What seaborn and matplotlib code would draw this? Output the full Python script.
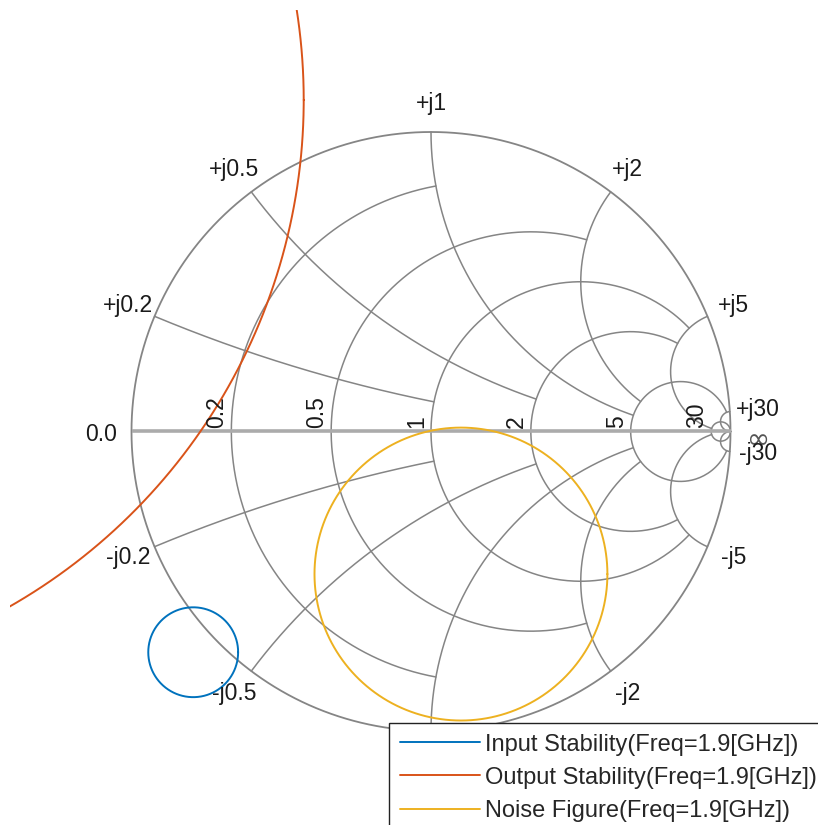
import numpy as np
import pandas as pd
import matplotlib
matplotlib.use("Agg")
import matplotlib.pyplot as plt
import seaborn as sns

# ---------------- data ----------------
# Smith chart grid (MATLAB smithplot style): value / clipping limit
grid_values = [30, 5, 2, 1, 0.5, 0.2]
grid_limits = [np.inf, 30, 5, 5, 2, 1]

real_label_values = [0.2, 0.5, 1, 2, 5, 30]
real_labels = ["0.2", "0.5", "1", "2", "5", "30"]
imag_label_values = [0.2, 0.5, 1, 2, 5, 30]
imag_labels_pos = ["+j0.2", "+j0.5", "+j1", "+j2", "+j5", "+j30"]
imag_labels_neg = ["-j0.2", "-j0.5", "-j1", "-j2", "-j5", "-j30"]

# circles in the reflection-coefficient plane
series_names = ["Input Stability(Freq=1.9[GHz])",
                "Output Stability(Freq=1.9[GHz])",
                "Noise Figure(Freq=1.9[GHz])"]
center_re = [-0.794, -2.373, 0.100]
center_im = [-0.737, 1.107, -0.476]
radius = [0.150, 1.948, 0.489]
series_colors = ["#0072BD", "#D95319", "#EDB120"]

# ---------------- figure ----------------
sns.set_style("white")
plt.rcParams["font.family"] = ["Liberation Sans", "DejaVu Sans"]

W, H = 818, 825
fig = plt.figure(figsize=(W / 100, H / 100), dpi=100)
cx_px, cy_px, R_px = 431.0, 431.5, 299.5
ax_left_px, ax_top_px = 10, 10
ax = fig.add_axes([ax_left_px / W, 0, (W - ax_left_px) / W, (H - ax_top_px) / H])
ax.axis("off")


def gamma(z):
    return (z - 1) / (z + 1)


GRID_C = "#858585"
GRID_LW = 1.1
TXT_C = "#1a1a1a"

# outer circle
t = np.linspace(0, 2 * np.pi, 721)
ax.plot(np.cos(t), np.sin(t), color=GRID_C, lw=1.3, zorder=1)

for v, L in zip(grid_values, grid_limits):
    th = np.linspace(-np.arctan(L), np.arctan(L), 600)
    g = gamma(v + 1j * np.tan(th))
    ax.plot(g.real, g.imag, color=GRID_C, lw=GRID_LW, zorder=1)
    th2 = np.linspace(0, np.arctan(L), 600)
    for s in (1, -1):
        g = gamma(np.tan(th2) + 1j * s * v)
        ax.plot(g.real, g.imag, color=GRID_C, lw=GRID_LW, zorder=1)

# real axis
ax.plot([-1, 1], [0, 0], color="#ABABAB", lw=2.6, zorder=1.5, solid_capstyle="butt")

# data circles via seaborn
rows = []
tt = np.linspace(0, 2 * np.pi, 721)
for name, a, b, r in zip(series_names, center_re, center_im, radius):
    for k, ang in enumerate(tt):
        rows.append({"series": name, "k": k,
                     "re": a + r * np.cos(ang), "im": b + r * np.sin(ang)})
df = pd.DataFrame(rows)
sns.lineplot(data=df, x="re", y="im", hue="series", hue_order=series_names,
             palette=series_colors, sort=False, estimator=None, lw=1.4,
             ax=ax, zorder=3)
ax.set_xlim((ax_left_px - cx_px) / R_px, (W - cx_px) / R_px)
ax.set_ylim((cy_px - H) / R_px, (cy_px - ax_top_px) / R_px)

FS = 16.5
# real axis labels
for v, lab in zip(real_label_values, real_labels):
    g = gamma(v)
    ax.text(g - 14.5 / R_px, 3 / R_px, lab, rotation=90, ha="center", va="bottom",
            fontsize=FS, color=TXT_C, zorder=4)
ax.text(-1.102, -0.01, "0.0", ha="center", va="center", fontsize=FS, color=TXT_C)
ax.text(1.093, -0.018, "\u221e", ha="center", va="center_baseline",
        fontsize=20, color="#555555", family=["DejaVu Sans"])

# reactance labels
RL = 1.095
for v, lp, ln in zip(imag_label_values, imag_labels_pos, imag_labels_neg):
    for s, lab in ((1, lp), (-1, ln)):
        g = gamma(1j * s * v)
        ang = np.angle(g)
        ax.text(RL * np.cos(ang), RL * np.sin(ang), lab, ha="center", va="center",
                fontsize=FS, color=TXT_C, zorder=4)

handles, labels = ax.get_legend_handles_labels()
leg = ax.legend(handles, labels, loc="upper left", mode="expand",
                bbox_to_anchor=(389 / W, 1 - 723 / H, 460 / W, 0),
                bbox_transform=fig.transFigure,
                frameon=True, fancybox=False, edgecolor="#222222", framealpha=1,
                fontsize=17.0, handlelength=3.4, handletextpad=0.22,
                labelspacing=0.47, borderpad=0.45, borderaxespad=0)
leg.set_zorder(10)
leg.get_frame().set_linewidth(1.0)
for line in leg.get_lines():
    line.set_linewidth(1.4)

fig.savefig("out.png", dpi=100)
